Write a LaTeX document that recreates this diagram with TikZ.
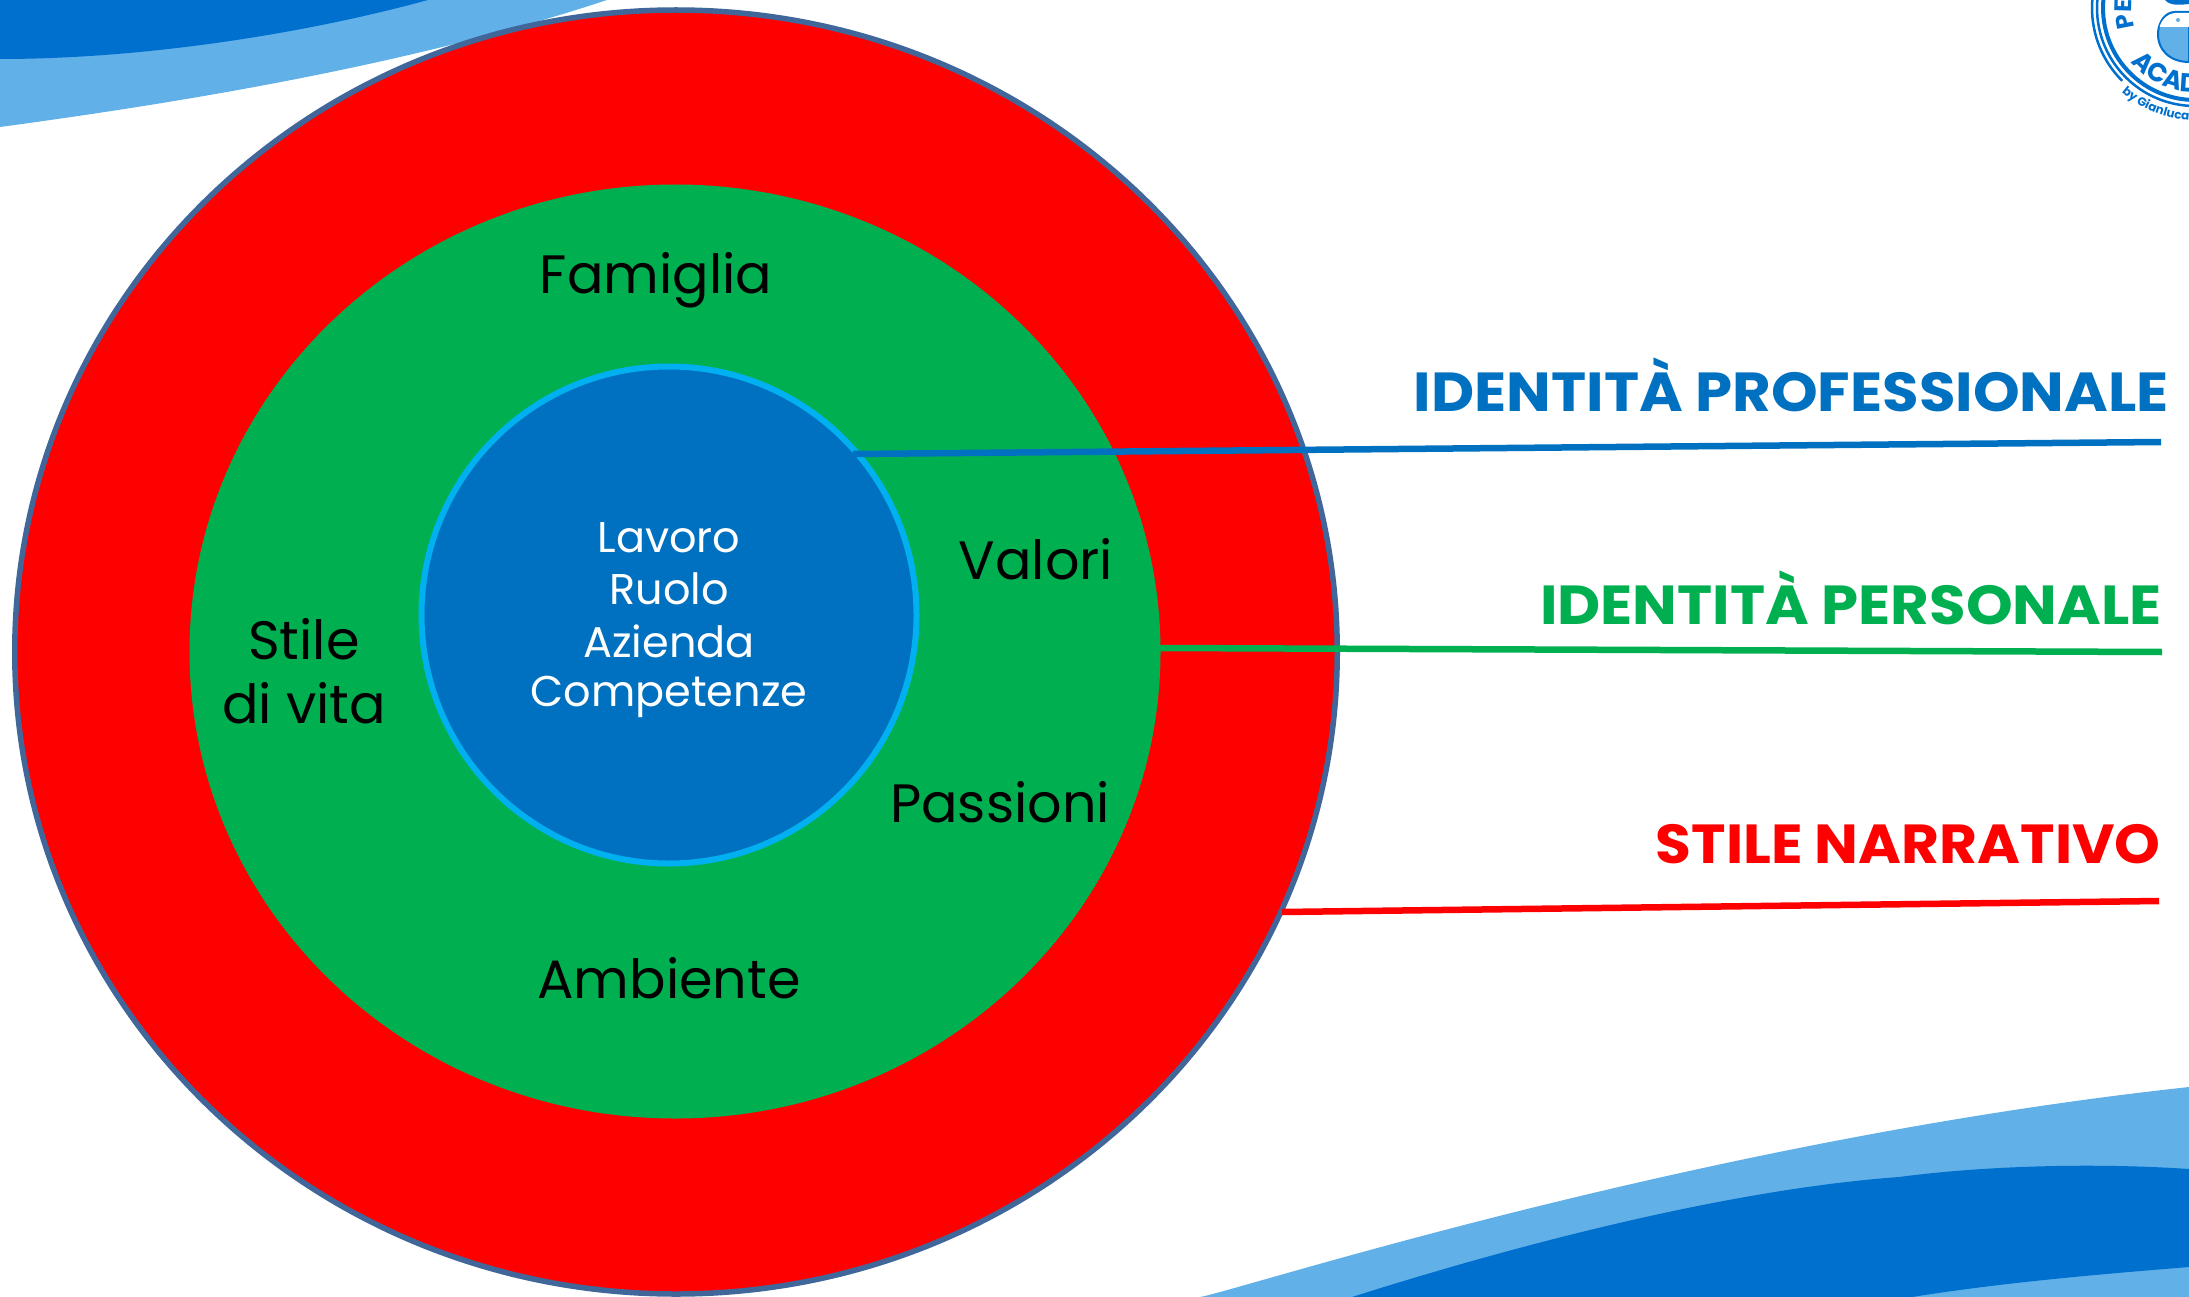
\documentclass[tikz,border=0pt]{standalone}
\usepackage{fontspec}
\setmainfont{Poppins}
\newfontfamily\sidefont[FakeStretch=1.08]{Poppins}
\newfontfamily\shortfont[FakeStretch=1.06]{Poppins}
\usetikzlibrary{shapes.geometric,decorations.text}
\definecolor{ringline}{HTML}{41669A}
\definecolor{wavelight}{HTML}{62B0E8}
\definecolor{wavedark}{HTML}{0070CE}
\definecolor{corered}{HTML}{FF0000}
\definecolor{coregreen}{HTML}{00B050}
\definecolor{coreblue}{HTML}{0070C0}
\definecolor{corecyan}{HTML}{00B0F0}
\tikzset{
  disc/.style={ellipse, inner sep=0pt, outer sep=0pt},
  innerword/.style={font=\fontsize{54}{54}\selectfont, text=black, align=center},
  corword/.style={font=\fontsize{43}{43}\selectfont, text=white},
  sideword/.style={font=\sidefont\fontsize{55}{55}\bfseries\selectfont, anchor=base east, inner sep=0pt},
  leader/.style={line width=6.5pt},
  badgering/.style={draw=wavedark},
}
\begin{document}
\begin{tikzpicture}[x=1pt,y=-1pt]
  \useasboundingbox (0,0) rectangle (2189,1297);
  % waves
  \fill[wavelight] (0,0) -- (607,0) .. controls (420,62) and (200,100) .. (0,127) -- cycle;
  \fill[wavedark] (0,0) -- (428,0) .. controls (300,35) and (140,59) .. (0,59) -- cycle;
  \fill[wavelight] (1200,1297) .. controls (1240,1290) and (1700,1140) .. (2189,1087) -- (2189,1297) -- cycle;
  \fill[wavedark] (1352,1297) .. controls (1500,1250) and (1720,1190) .. (1899,1177)
    .. controls (1990,1165) and (2100,1163) .. (2189,1169) -- (2189,1267)
    .. controls (2090,1275) and (2000,1283) .. (1912,1297) -- cycle;
  % discs
  \node[disc, draw=ringline, line width=5.5pt, fill=corered, minimum width=1322.5pt, minimum height=1284pt] (outer) at (676,652) {};
  \node[disc, fill=coregreen, minimum width=971pt, minimum height=934pt] (middle) at (675,651.5) {};
  \node[disc, draw=corecyan, line width=6pt, fill=coreblue, minimum width=495pt, minimum height=497pt] (inner) at (669,615) {};
  % words
  \node[innerword] (famiglia) at (656,280) {Famiglia};
  \node[innerword] (valori) at (1036,559) {Valori};
  \node[innerword] (passioni) at (1000,802) {Passioni};
  \node[innerword] (ambiente) at (669,978) {Ambiente};
  \node[innerword] (stile) at (304,671) {Stile\\[10pt]di vita};
  \node[corword] (lavoro) at (669,538) {Lavoro};
  \node[corword] (ruolo) at (669,589) {Ruolo};
  \node[corword] (azienda) at (669,641) {Azienda};
  \node[corword] (competenze) at (669,697) {Competenze};
  % leaders
  \coordinate (profA) at (853,454);
  \coordinate (profB) at (2161,442);
  \coordinate (persA) at (1160,648);
  \coordinate (persB) at (2162,652);
  \coordinate (stilA) at (1282,912);
  \coordinate (stilB) at (2159,901);
  \draw[leader, coreblue] (profA) -- (profB);
  \draw[leader, coregreen] (persA) -- (persB);
  \draw[leader, corered] (stilA) -- (stilB);
  \node[sideword, text=coreblue] (prof) at (2169,411) {IDENTITÀ PROFESSIONALE};
  \node[sideword, text=coregreen] (pers) at (2162,624.5) {IDENTITÀ PERSONALE};
  \node[sideword, font=\shortfont\fontsize{55}{55}\bfseries\selectfont, text=corered] (stil) at (2161,863) {STILE NARRATIVO};
  % badge
  \draw[badgering, line width=2.5pt] (2195,8) ++(135:103) arc (135:265:103);
  \draw[badgering, line width=2.5pt] (2195,8) circle (98);
  \draw[badgering, line width=4pt] (2195,8) circle (92);
  \path[postaction={decorate, decoration={text along path, text align=left,
      text={|\fontsize{26}{26}\bfseries\selectfont\color{wavedark}|ACAD}}}]
      (2195,8) ++(140:84) arc (140:85:84);
  \path[postaction={decorate, decoration={text along path, text align=left,
      text={|\fontsize{24}{24}\bfseries\selectfont\color{wavedark}|PE}}}]
      (2195,8) ++(162:63) arc (162:215:63);
  \path[postaction={decorate, decoration={text along path, text align=left,
      text={|\fontsize{12}{12}\bfseries\selectfont\color{wavedark}|by Gianluca}}}]
      (2195,8) ++(131:112) arc (131:85:112);
  \filldraw[fill=wavelight, draw=wavedark, line width=2pt] (2189,62)
    .. controls (2170,62) and (2157,50) .. (2158,32)
    .. controls (2159,22) and (2165,12) .. (2175,12) -- (2189,12) -- cycle;
  \fill[white] (2159.5,27) .. controls (2162,19) and (2168,13.5) .. (2175,13) -- (2189,13) -- (2189,27) -- cycle;
  \fill[wavedark] (2165,0) .. controls (2170,6) and (2180,5) .. (2189,4) -- (2189,0) -- cycle;
  \fill[wavelight] (2178,20) circle (2);
\end{tikzpicture}
\end{document}
